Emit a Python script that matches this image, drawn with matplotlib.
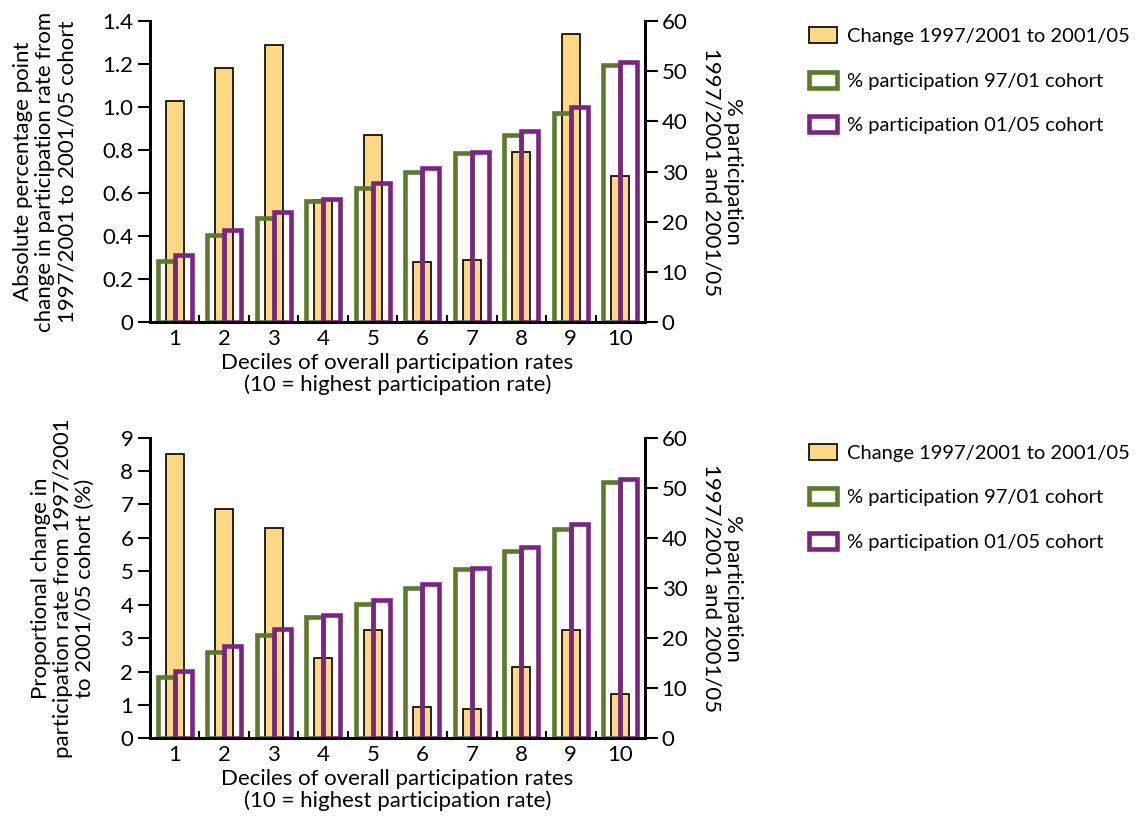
import numpy as np
import matplotlib
matplotlib.use("Agg")
import matplotlib.pyplot as plt
from matplotlib.patches import Patch

plt.rcParams['font.family'] = ['Lato', 'DejaVu Sans']

deciles = ["1", "2", "3", "4", "5", "6", "7", "8", "9", "10"]
abs_change = [1.03, 1.18, 1.29, 0.57, 0.87, 0.28, 0.29, 0.79, 1.34, 0.68]
prop_change = [8.50, 6.87, 6.29, 2.40, 3.24, 0.95, 0.88, 2.14, 3.24, 1.33]
part_9701 = [12.2, 17.3, 20.7, 24.2, 26.8, 30.0, 33.7, 37.3, 41.7, 51.2]
part_0105 = [13.4, 18.4, 21.9, 24.6, 27.7, 30.7, 34.0, 38.1, 42.8, 51.8]

yellow = '#FCD882'
green = '#5B7A2C'
purple = '#7B2484'
fs = 16
lfs = 14.5

fig = plt.figure(figsize=(11.37, 8.19), dpi=100)


def draw_panel(rect, change, ymax, yticks, yticklabels, ylabel):
    ax = fig.add_axes(rect)
    ax2 = ax.twinx()
    x = np.arange(1, len(deciles) + 1)
    ax.bar(x, change, width=0.36, color=yellow, edgecolor='black', linewidth=1.2, zorder=2)
    ax2.bar(x - 0.17, part_9701, width=0.34, facecolor='none', edgecolor=green, linewidth=3.3)
    ax2.bar(x + 0.17, part_0105, width=0.34, facecolor='none', edgecolor=purple, linewidth=3.3)

    ax.set_xlim(0.5, 10.5)
    ax.set_ylim(0, ymax)
    ax2.set_ylim(0, 60)
    ax.set_yticks(yticks)
    ax.set_yticklabels(yticklabels)
    ax2.set_yticks(range(0, 61, 10))
    ax.set_xticks(x)
    ax.set_xticklabels(deciles)
    ax.set_xticks(np.arange(1.5, 10.5, 1), minor=True)

    for a in (ax, ax2):
        a.spines['top'].set_visible(False)
        for s in a.spines.values():
            s.set_linewidth(2)
    ax.tick_params(axis='y', which='major', length=9, width=1.5, labelsize=fs, pad=3)
    ax2.tick_params(axis='y', which='major', length=9, width=1.5, labelsize=fs, pad=3)
    ax.tick_params(axis='x', which='major', length=0, labelsize=fs, pad=5)
    ax.tick_params(axis='x', which='minor', direction='in', length=5, width=1.5)

    ax.set_xlabel("Deciles of overall participation rates\n(10 = highest participation rate)",
                  fontsize=fs, linespacing=1.05, labelpad=3)
    ax.set_ylabel(ylabel, fontsize=fs, linespacing=1.12, labelpad=18)
    ax2.set_ylabel("% participation\n1997/2001 and 2001/05", fontsize=fs,
                   rotation=270, va='bottom', linespacing=1.12, labelpad=10)

    handles = [Patch(facecolor=yellow, edgecolor='black', linewidth=1.2),
               Patch(facecolor='white', edgecolor=green, linewidth=3.3),
               Patch(facecolor='white', edgecolor=purple, linewidth=3.3)]
    labels = ["Change 1997/2001 to 2001/05", "% participation 97/01 cohort",
              "% participation 01/05 cohort"]
    top = rect[1] + rect[3]
    ax2.legend(handles, labels, loc='upper left', bbox_to_anchor=(0.7114, top - 0.0074),
               bbox_transform=fig.transFigure, frameon=False, fontsize=lfs,
               handlelength=1.4, handleheight=0.85, handletextpad=0.5,
               labelspacing=1.32, borderpad=0, borderaxespad=0)
    return ax, ax2


draw_panel([0.1319, 0.6065, 0.4354, 0.3679], abs_change, 1.4,
           np.arange(0, 1.41, 0.2), ["0", "0.2", "0.4", "0.6", "0.8", "1.0", "1.2", "1.4"],
           "Absolute percentage point\nchange in participation rate from\n1997/2001 to 2001/05 cohort")
draw_panel([0.1319, 0.0985, 0.4354, 0.3671], prop_change, 9,
           range(0, 10), [str(i) for i in range(10)],
           "Proportional change in\nparticipation rate from 1997/2001\nto 2001/05 cohort (%)")

fig.savefig("out.png", dpi=100)
